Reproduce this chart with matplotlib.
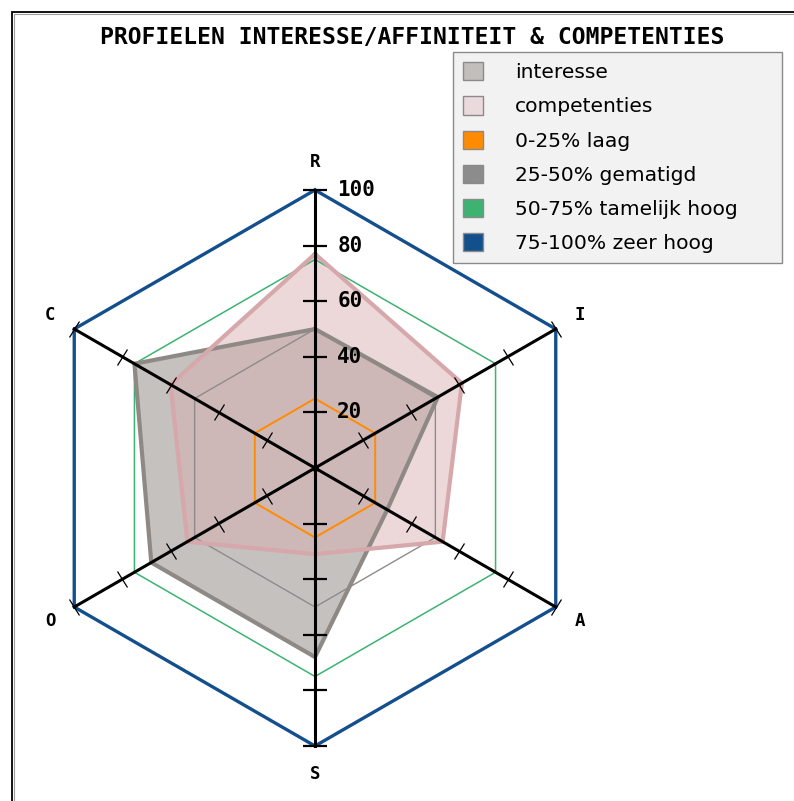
import numpy as np
import matplotlib
matplotlib.use("Agg")
import matplotlib.pyplot as plt
from matplotlib.patches import Patch, Rectangle
from matplotlib.markers import MarkerStyle
from matplotlib.transforms import Affine2D

# data
categories = ["R", "I", "A", "S", "O", "C"]
interesse = [50, 51, 30, 68, 68, 75]
competenties = [77, 61, 53, 31, 53, 60]
levels = [25, 50, 75, 100]
level_colors = ["#ff8c00", "#8c8c8c", "#3cb371", "#134f8c"]
level_widths = [1.4, 1.0, 1.1, 2.4]
legend_labels = ["interesse", "competenties", "0-25% laag", "25-50% gematigd",
                 "50-75% tamelijk hoog", "75-100% zeer hoog"]
tick_values = [20, 40, 60, 80, 100]

W, H = 794, 801
cx, cy, rad = 315, 468, 278

fig = plt.figure(figsize=(W / 100, H / 100), dpi=100)
fig.patch.set_facecolor("white")

# outer frame (goes off the right/bottom edge)
fig.add_artist(Rectangle((12 / W, -0.1), 1.2, 1 - 12 / H + 0.1, transform=fig.transFigure,
                         fill=False, edgecolor="black", lw=1.3))
fig.add_artist(Rectangle((13.6 / W, -0.1), 1.2, 1 - 13.6 / H + 0.1, transform=fig.transFigure,
                         fill=False, edgecolor="#a0a0a0", lw=0.8))

ax = fig.add_axes([(cx - rad) / W, (H - cy - rad) / H, 2 * rad / W, 2 * rad / H],
                  projection="polar")
ax.set_theta_zero_location("N")
ax.set_theta_direction(-1)
ax.set_ylim(0, 100)
ax.grid(False)
ax.spines["polar"].set_visible(False)
ax.set_xticks([])
ax.set_yticks([])
ax.patch.set_alpha(0)

theta = np.deg2rad(np.arange(len(categories)) * 60.0)
theta_c = np.append(theta, theta[0])

# profiles (fills)
vals_i = np.append(interesse, interesse[0])
vals_c = np.append(competenties, competenties[0])
ax.fill(theta_c, vals_i, facecolor=(140 / 255, 132 / 255, 128 / 255), alpha=0.5, zorder=2)
ax.fill(theta_c, vals_c, facecolor=(215 / 255, 172 / 255, 174 / 255), alpha=0.47, zorder=2.5)

# level hexagons
for lv, col, lw in zip(levels, level_colors, level_widths):
    ax.plot(theta_c, [lv] * len(theta_c), color=col, lw=lw, zorder=3, clip_on=False)

# profile outlines
ax.plot(theta_c, vals_i, color="#8f8985", lw=3.0, zorder=4, solid_joinstyle="miter")
ax.plot(theta_c, vals_c, color="#d6a8ab", lw=3.0, zorder=4.5, solid_joinstyle="miter")

# axes lines and ticks
for i, t in enumerate(theta):
    ax.plot([t, t], [0, 100], color="black", lw=2.2, zorder=6, clip_on=False)
    disp_angle = 90 - np.rad2deg(t)
    if i % 3 == 0:
        m = MarkerStyle("_")
        ax.plot([t] * len(tick_values), tick_values, ls="none", marker=m,
                markersize=17, markeredgewidth=1.6, color="black", zorder=6, clip_on=False)
    else:
        m = MarkerStyle("_", transform=Affine2D().rotate_deg(disp_angle + 90))
        ax.plot([t] * len(tick_values), tick_values, ls="none", marker=m,
                markersize=13, markeredgewidth=0.9, color="black", zorder=6, clip_on=False)

ax.plot([0], [0], marker="o", markersize=4, color="black", zorder=7)

# category labels
for lab, t in zip(categories, theta):
    ax.text(t, 110, lab, ha="center", va="center", fontsize=12.5,
            fontweight="bold", family="DejaVu Sans Mono", clip_on=False)

# value labels on the R axis
for v in tick_values:
    ax.annotate(str(v), xy=(0, v), xytext=(16, 0), textcoords="offset points",
                ha="left", va="center", fontsize=15, fontweight="bold",
                family="DejaVu Sans Mono", annotation_clip=False, zorder=8)

fig.text(412 / W, 1 - 38 / H, "PROFIELEN INTERESSE/AFFINITEIT & COMPETENTIES",
         ha="center", va="center", fontsize=16.6, fontweight="bold",
         family="DejaVu Sans Mono")

handle_colors = ["#c2bebb", "#eadadb"] + level_colors
handles = [Patch(facecolor=c, edgecolor="#8a8a8a", lw=1.0) for c in handle_colors]
leg = fig.legend(handles, legend_labels, loc="upper left",
                 bbox_to_anchor=(453 / W, 1 - 52 / H, 329 / W, 0.0), mode="expand",
                 borderaxespad=0, fontsize=14.6, frameon=True, fancybox=False,
                 facecolor="#f2f2f2", edgecolor="#8a8a8a", framealpha=1,
                 handlelength=1.0, handleheight=1.0, handletextpad=1.55,
                 labelspacing=0.7, borderpad=0.5)
leg.get_frame().set_linewidth(1.0)

fig.savefig("out.png", dpi=100)
